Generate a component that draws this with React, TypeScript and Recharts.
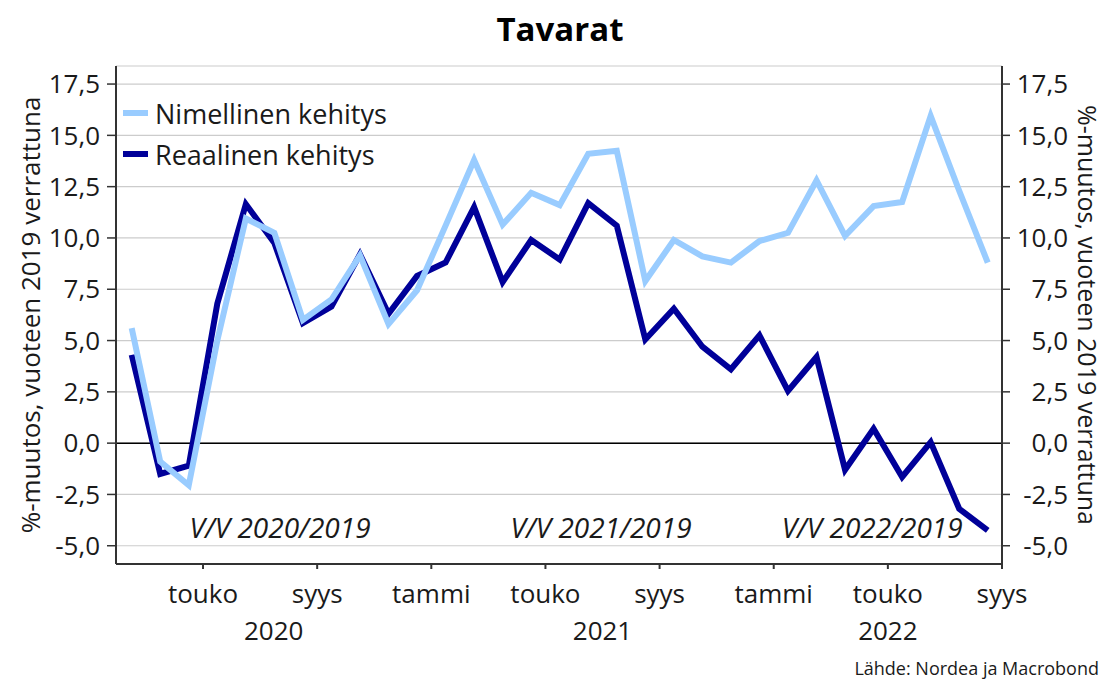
import React from "react";
import {
    LineChart,
    Line,
    XAxis,
    YAxis,
    CartesianGrid,
    ReferenceLine,
    ReferenceDot,
    Legend,
} from "recharts";

// Monthly observations, Mar 2020 - Sep 2022
const months = [
    "2020-03", "2020-04", "2020-05", "2020-06", "2020-07", "2020-08", "2020-09", "2020-10", "2020-11", "2020-12",
    "2021-01", "2021-02", "2021-03", "2021-04", "2021-05", "2021-06", "2021-07", "2021-08", "2021-09", "2021-10", "2021-11", "2021-12",
    "2022-01", "2022-02", "2022-03", "2022-04", "2022-05", "2022-06", "2022-07", "2022-08", "2022-09",
];

// Nimellinen kehitys (nominal), % vs 2019
const nominal = [
    5.6, -0.9, -2.05, 5.0, 10.95, 10.25, 6.0, 7.0, 9.15, 5.8,
    7.45, 10.6, 13.8, 10.65, 12.2, 11.6, 14.1, 14.25, 7.9, 9.9, 9.1, 8.8,
    9.85, 10.25, 12.8, 10.1, 11.55, 11.75, 15.95, 12.3, 8.8,
];

// Reaalinen kehitys (real), % vs 2019
const real = [
    4.3, -1.5, -1.1, 6.8, 11.65, 9.75, 5.85, 6.65, 9.2, 6.3,
    8.15, 8.8, 11.5, 7.85, 9.9, 8.95, 11.7, 10.6, 5.05, 6.55, 4.7, 3.6,
    5.25, 2.55, 4.2, -1.3, 0.7, -1.65, 0.05, -3.2, -4.25,
];

// month names shown on the x axis
const monthTickMonths = ["2020-05", "2020-09", "2021-01", "2021-05", "2021-09", "2022-01", "2022-05", "2022-09"];
const monthTickLabels = ["touko", "syys", "tammi", "touko", "syys", "tammi", "touko", "syys"];

const years = ["2020", "2021", "2022"];
const yTicks = [-5, -2.5, 0, 2.5, 5, 7.5, 10, 12.5, 15, 17.5];

const periodLabels = ["V/V 2020/2019", "V/V 2021/2019", "V/V 2022/2019"];
const periodLabelX = [5.2, 16.45, 25.95];
const periodLabelY = -4.15;

const NOM_NAME = "Nimellinen kehitys";
const REAL_NAME = "Reaalinen kehitys";
const LIGHT = "#99ccff";
const DARK = "#000099";
const TEXT = "#1a1a1a";
const AXIS = "#333333";
const FONT = "'Open Sans', 'Noto Sans', sans-serif";

const X_DOMAIN: [number, number] = [-0.55, 30.5];
const Y_DOMAIN: [number, number] = [-5.89, 18.38];

const data = months.map((m, i) => ({ x: i, month: m, nominal: nominal[i], real: real[i] }));

// ticks sit half a month after the point
const monthTicks = monthTickMonths.map((m) => months.indexOf(m) + 0.5);

// year label centred on the visible part of each year
const yearTicks = years.map((y) => {
    const first = months.findIndex((m) => m.startsWith(y));
    const last = months.length - 1 - [...months].reverse().findIndex((m) => m.startsWith(y));
    const s = first === 0 ? X_DOMAIN[0] : first + 0.5;
    const e = Math.min(X_DOMAIN[1], last + 1.5);
    return (s + e) / 2;
});

const fmt = (v: number) => v.toFixed(1).replace(".", ",");

const MonthTick = (props: any) => {
    const { x, y, payload } = props;
    const idx = monthTicks.findIndex((t) => Math.abs(t - payload.value) < 1e-6);
    return (
        <text x={x} y={y + 34} textAnchor="middle" fontSize={26} fill={TEXT}>
            {monthTickLabels[idx]}
        </text>
    );
};

const YearTick = (props: any) => {
    const { x, y, payload } = props;
    const idx = yearTicks.findIndex((t) => Math.abs(t - payload.value) < 1e-6);
    return (
        <text x={x} y={y + 46} textAnchor="middle" fontSize={26} fill={TEXT}>
            {years[idx]}
        </text>
    );
};

const RightTick = (props: any) => {
    const { x, y, payload } = props;
    return (
        <text x={x + 56} y={y} dy="0.355em" textAnchor="end" fontSize={26} fill={TEXT}>
            {fmt(payload.value)}
        </text>
    );
};

const renderLegend = () => {
    const items = [
        { name: NOM_NAME, color: LIGHT },
        { name: REAL_NAME, color: DARK },
    ];
    return (
        <div>
            {items.map((it) => (
                <div key={it.name} style={{ display: "flex", alignItems: "center", height: 41 }}>
                    <div style={{ width: 25, height: 6, background: it.color, marginRight: 7 }} />
                    <span style={{ fontSize: 27, color: TEXT, lineHeight: "41px", whiteSpace: "nowrap" }}>{it.name}</span>
                </div>
            ))}
        </div>
    );
};

const yTitle = "%-muutos, vuoteen 2019 verrattuna";

const App: React.FC = () => {
    return (
        <div style={{ position: "absolute", left: 0, top: 0, width: 1105, height: 681, fontFamily: FONT, background: "#fff" }}>
            <LineChart
                width={1105}
                height={681}
                data={data}
                margin={{ top: 66, right: 43, bottom: 47, left: 56 }}
            >
                <CartesianGrid vertical={false} stroke="#cccccc" strokeWidth={1.2} xAxisId="month" yAxisId="left" />
                <XAxis
                    xAxisId="month"
                    dataKey="x"
                    type="number"
                    domain={X_DOMAIN}
                    allowDataOverflow
                    ticks={monthTicks}
                    interval={0}
                    height={30}
                    tickSize={5}
                    tickMargin={0}
                    tick={<MonthTick />}
                    axisLine={{ stroke: AXIS, strokeWidth: 2 }}
                    tickLine={{ stroke: AXIS, strokeWidth: 2 }}
                />
                <XAxis
                    xAxisId="year"
                    dataKey="x"
                    type="number"
                    domain={X_DOMAIN}
                    allowDataOverflow
                    ticks={yearTicks}
                    interval={0}
                    height={40}
                    tickSize={0}
                    tickMargin={0}
                    tick={<YearTick />}
                    axisLine={false}
                    tickLine={false}
                />
                <YAxis
                    yAxisId="left"
                    type="number"
                    domain={Y_DOMAIN}
                    allowDataOverflow
                    ticks={yTicks}
                    interval={0}
                    width={60}
                    tickSize={9}
                    tickMargin={7}
                    tickFormatter={fmt}
                    tick={{ fontSize: 26, fill: TEXT }}
                    axisLine={{ stroke: AXIS, strokeWidth: 2 }}
                    tickLine={{ stroke: AXIS, strokeWidth: 1.5 }}
                    label={{ value: yTitle, angle: -90, position: "center", dx: -55, fontSize: 26, fill: TEXT }}
                />
                <YAxis
                    yAxisId="right"
                    orientation="right"
                    type="number"
                    domain={Y_DOMAIN}
                    allowDataOverflow
                    ticks={yTicks}
                    interval={0}
                    width={60}
                    tickSize={8}
                    tickMargin={2}
                    tick={<RightTick />}
                    axisLine={{ stroke: AXIS, strokeWidth: 2 }}
                    tickLine={{ stroke: AXIS, strokeWidth: 1.5 }}
                    label={{ value: yTitle, angle: 90, position: "center", dx: 55, fontSize: 25, fill: TEXT }}
                />
                <ReferenceLine y={0} yAxisId="left" xAxisId="month" stroke="#000" strokeWidth={1.5} />
                {periodLabels.map((txt, i) => (
                    <ReferenceDot
                        key={txt}
                        xAxisId="month"
                        yAxisId="left"
                        x={periodLabelX[i]}
                        y={periodLabelY}
                        r={0}
                        fill="none"
                        stroke="none"
                        label={{ value: txt, position: "center", fontSize: 28, fontStyle: "italic", fill: TEXT }}
                    />
                ))}
                <Line
                    xAxisId="month"
                    yAxisId="left"
                    dataKey="real"
                    name={REAL_NAME}
                    stroke={DARK}
                    strokeWidth={6}
                    dot={false}
                    activeDot={false}
                    isAnimationActive={false}
                />
                <Line
                    xAxisId="month"
                    yAxisId="left"
                    dataKey="nominal"
                    name={NOM_NAME}
                    stroke={LIGHT}
                    strokeWidth={6}
                    dot={false}
                    activeDot={false}
                    isAnimationActive={false}
                />
                <Legend
                    layout="vertical"
                    align="center"
                    verticalAlign="middle"
                    content={renderLegend}
                    wrapperStyle={{ left: 123, top: 92.5, width: 320 }}
                />
            </LineChart>
            <svg width={1105} height={681} style={{ position: "absolute", left: 0, top: 0, pointerEvents: "none" }}>
                <text x={560} y={41} textAnchor="middle" fontSize={33} fontWeight={700} fill="#000">
                    Tavarat
                </text>
                <text x={1099} y={675} textAnchor="end" fontSize={18} fill={TEXT}>
                    Lähde: Nordea ja Macrobond
                </text>
            </svg>
        </div>
    );
};

export default App;
